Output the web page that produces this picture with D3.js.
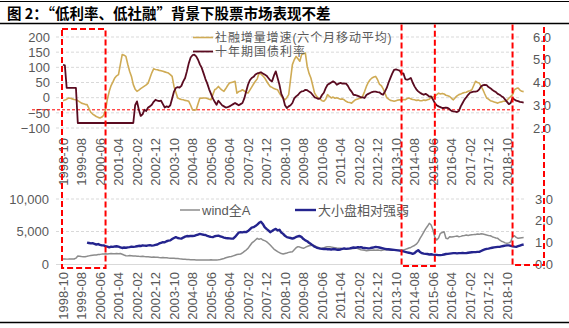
<!DOCTYPE html>
<html><head><meta charset="utf-8">
<script src="https://cdn.jsdelivr.net/npm/d3@7"></script>
<style>body{margin:0;background:#fff}svg{display:block}</style>
</head><body>
<svg id="c" width="569" height="328"></svg>
<script>
const title = "图 2：“低利率、低社融”背景下股票市场表现不差";
const startYear = 1998, startMonth = 10;
const tickLabels = ["1998-10","1999-08","2000-06","2001-04","2002-02","2002-12","2003-10","2004-08","2005-06","2006-04","2007-02","2007-12","2008-10","2009-08","2010-06","2011-04","2012-02","2012-12","2013-10","2014-08","2015-06","2016-04","2017-02","2017-12","2018-10"];
const seriesNames = ["社融增量增速(六个月移动平均)","十年期国债利率","wind全A","大小盘相对强弱"];

// 社融增量增速(六个月移动平均) — left axis, top panel (monthly from 1998-10)
const socialFinancing = [
 -10,-8,-5,-1,-2,-4,-6,-7,-10,-14,
 -18,-20,-22,-23,-35,-48,-54,-58,-62,-65,
 -67,-64,-58,-40,-5,21,40,52,65,72,
 76,110,142,140,136,110,87,70,43,28,
 21,25,30,34,38,42,48,65,82,95,
 93,92,90,89,87,85,83,81,76,70,
 37,18,-1,-4,-6,-7,-9,-10,-12,-25,
 -40,-41,-40,-20,-1,-2,-1,-1,-3,-5,
 -7,10,26,30,37,30,25,21,30,40,
 48,50,52,54,15,20,22,26,22,18,
 15,25,35,45,54,62,81,78,72,65,
 55,45,37,34,30,28,26,15,5,-2,
 -7,0,10,60,109,125,136,128,120,142,
 145,147,103,80,65,40,15,5,-1,-5,
 -10,-12,-5,10,4,-1,2,-2,0,-3,
 -5,-4,-7,-12,-15,-16,-18,-12,-7,-5,
 -3,-1,5,20,37,50,59,65,68,70,
 60,45,40,30,15,0,-5,-9,-10,-12,
 -10,-8,-7,-9,-6,-7,-3,-1,-4,-6,
 -7,-9,-8,-10,-10,-8,-9,-7,-5,0,
 2,4,10,15,12,14,12,8,6,4,
 -2,-7,0,6,10,12,15,17,18,21,
 23,26,40,54,50,48,38,26,12,-1,
 -5,-10,-12,-14,-16,-18,-15,-14,-12,-12,
 -8,-2,4,10,26,30,32,25,21,20
];
// 十年期国债利率 — right axis, top panel
const bondYield = [
 4.78,4.75,3.76,3.76,3.76,3.76,3.76,3.76,2.22,2.22,
 2.22,2.22,2.22,2.22,2.22,2.22,2.22,2.22,2.22,2.22,
 2.22,2.22,2.22,2.22,2.22,2.22,2.22,2.22,2.22,2.22,
 2.22,2.22,2.22,2.22,2.22,2.22,2.22,2.22,2.22,3.0,
 3.17,2.8,2.53,2.6,2.8,2.75,2.9,2.95,3.02,3.15,
 3.24,3.2,3.18,3.2,3.05,2.9,2.95,2.92,3.0,3.3,
 3.6,3.76,3.8,3.78,3.85,4.05,4.2,4.5,4.85,5.1,
 5.2,5.22,5.15,5.0,4.8,4.64,4.4,4.15,3.95,3.7,
 3.5,3.3,3.15,3.02,3.2,3.1,3.0,2.95,2.9,2.92,
 2.95,3.0,3.05,3.1,3.05,3.0,3.05,3.1,3.3,3.6,
 3.9,4.1,4.2,4.25,4.35,4.4,4.42,4.45,4.4,4.35,
 4.3,4.2,4.1,4.05,4.3,4.49,4.2,3.9,3.5,3.32,
 3.0,2.88,2.95,3.0,3.1,3.3,3.39,3.45,3.55,3.61,
 3.62,3.68,3.66,3.6,3.55,3.45,3.35,3.32,3.28,3.3,
 3.45,3.55,3.75,3.9,3.95,4.0,4.05,4.0,3.9,3.95,
 3.98,3.95,3.96,3.95,3.85,3.7,3.6,3.46,3.45,3.42,
 3.39,3.35,3.35,3.32,3.45,3.5,3.54,3.58,3.6,3.6,
 3.58,3.57,3.5,3.46,3.6,3.76,4.0,4.2,4.4,4.56,
 4.58,4.55,4.52,4.4,4.4,4.15,4.12,4.15,4.2,4.0,
 3.83,3.7,3.61,3.55,3.5,3.46,3.5,3.45,3.38,3.39,
 3.25,3.1,3.0,2.95,2.92,2.88,2.88,2.9,2.88,2.82,
 2.75,2.73,2.72,2.7,2.75,2.95,3.1,3.25,3.35,3.46,
 3.55,3.58,3.6,3.6,3.62,3.7,3.83,3.88,3.9,3.88,
 3.8,3.75,3.68,3.62,3.58,3.5,3.46,3.4,3.35,3.25,
 3.15,3.05,3.1,3.32,3.25,3.2,3.18,3.15,3.14,3.12
];
// wind全A — left axis, bottom panel
const windA = [
 770,760,750,760,780,770,770,900,1230,1200,
 1150,1120,1130,1180,1250,1300,1350,1380,1400,1450,
 1480,1520,1540,1560,1540,1580,1600,1570,1590,1600,
 1590,1620,1500,1380,1280,1250,1300,1260,1220,1250,
 1200,1180,1170,1200,1150,1120,1100,1080,1050,1060,
 1030,1050,1000,980,1000,960,950,920,900,880,
 870,860,840,800,770,740,720,700,690,670,
 650,640,630,620,615,620,630,610,600,620,
 640,610,620,615,650,700,780,850,950,1050,
 1130,1150,1250,1350,1450,1500,1540,1700,1950,2150,
 2400,2800,3200,3430,3700,3950,3800,3900,3690,3600,
 3450,3200,2920,2600,2300,2100,1900,1750,1600,1540,
 1620,1700,1790,1850,1900,2200,2500,2670,2600,2500,
 2410,2550,2700,2800,2850,2920,2800,2650,2550,2450,
 2410,2500,2600,2650,2670,2600,2550,2500,2450,2420,
 2410,2350,2300,2260,2300,2350,2400,2380,2420,2410,
 2300,2200,2150,2100,2050,2080,2100,2120,2150,2130,
 2150,2100,2080,2150,2200,2180,2150,2120,2100,2130,
 2150,2100,2120,2150,2150,2250,2350,2450,2550,2700,
 2850,3050,3400,3950,4400,4900,5400,5800,6260,6000,
 5230,4100,3690,4000,4720,4850,4970,3950,3900,4200,
 4150,4200,4250,4300,4200,4250,4350,4400,4460,4400,
 4450,4500,4520,4550,4600,4560,4650,4600,4550,4460,
 4400,4350,4200,4100,4000,3950,3700,3500,3400,3250,
 3180,3250,3400,4200,4350,4100,3950,4000,4050,4070
];
// 大小盘相对强弱 — right axis, bottom panel
const sizeRatio = [
 null,null,null,null,null,null,null,null,null,null,
 null,null,null,0.99,0.97,0.95,0.96,0.93,0.9,0.92,
 0.88,0.86,0.86,0.82,0.8,0.77,0.8,0.79,0.81,0.82,
 0.8,0.77,0.74,0.76,0.75,0.77,0.78,0.8,0.79,0.8,
 0.82,0.84,0.83,0.86,0.85,0.84,0.86,0.87,0.85,0.86,
 0.88,0.9,0.95,0.98,1.01,1.0,1.05,1.08,1.09,1.15,
 1.2,1.24,1.2,1.18,1.17,1.22,1.26,1.29,1.28,1.3,
 1.29,1.3,1.33,1.36,1.39,1.37,1.35,1.34,1.3,1.27,
 1.25,1.24,1.28,1.3,1.31,1.28,1.25,1.22,1.2,1.19,
 1.18,1.17,1.17,1.25,1.35,1.45,1.47,1.46,1.48,1.47,
 1.52,1.6,1.68,1.7,1.75,1.82,1.9,1.95,1.85,1.7,
 1.62,1.55,1.47,1.52,1.58,1.62,1.55,1.58,1.45,1.39,
 1.3,1.24,1.22,1.2,1.17,1.2,1.25,1.28,1.29,1.24,
 1.15,1.09,1.05,0.98,0.92,0.86,0.8,0.76,0.73,0.71,
 0.7,0.69,0.7,0.68,0.68,0.67,0.69,0.68,0.66,0.66,
 0.67,0.7,0.72,0.7,0.71,0.72,0.74,0.76,0.75,0.77,
 0.77,0.78,0.75,0.74,0.73,0.72,0.73,0.75,0.77,0.79,
 0.78,0.76,0.74,0.72,0.7,0.68,0.68,0.67,0.66,0.65,
 0.64,0.63,0.62,0.6,0.58,0.56,0.54,0.52,0.5,0.47,
 0.5,0.58,0.64,0.55,0.5,0.48,0.47,0.46,0.44,0.45,
 0.43,0.42,0.42,0.41,0.41,0.42,0.44,0.46,0.47,0.48,
 0.49,0.5,0.5,0.49,0.5,0.5,0.51,0.5,0.5,0.52,
 0.53,0.54,0.55,0.55,0.56,0.56,0.6,0.64,0.67,0.7,
 0.71,0.73,0.75,0.77,0.78,0.79,0.79,0.81,0.83,0.85,
 0.86,0.86,0.84,0.82,0.8,0.79,0.82,0.85,0.88,0.9
];
const topLeftTicks = [-100,-50,0,50,100,150,200];
const topRightTicks = [2,3,4,5,6];
const botLeftTicks = [0,5000,10000];
const botRightTicks = [0,1,2,3];
const yieldMarker = 2.8;
const boxes = [[0,23],[183,201],[243,260]]; // month-index spans highlighted

const months = socialFinancing.map((d,i)=>{
  const m = startMonth - 1 + i;
  return (startYear + Math.floor(m/12)) + "-" + String(m%12+1).padStart(2,"0");
});

const svg = d3.select("#c");
svg.append("rect").attr("width",569).attr("height",328).attr("fill","#fff");
const FONT = "'Liberation Sans', Arial, sans-serif";
const CJK = "'Noto Sans CJK SC', sans-serif";
const LEGFONT = "'Liberation Sans', 'Noto Sans CJK SC', sans-serif";
const axisColor = "#595959";
const gridColor = "#d9d9d9";

// title
svg.append("line").attr("x1",0).attr("x2",569).attr("y1",1.5).attr("y2",1.5).attr("stroke","#000").attr("stroke-width",1);
svg.append("text").attr("x",7).attr("y",19).attr("font-family",CJK).attr("font-weight","bold")
  .attr("font-size",14.5).attr("fill","#000").text(title);
svg.append("line").attr("x1",0).attr("x2",569).attr("y1",23.5).attr("y2",23.5).attr("stroke","#000").attr("stroke-width",1.5);
svg.append("line").attr("x1",0).attr("x2",569).attr("y1",322.5).attr("y2",322.5).attr("stroke","#000").attr("stroke-width",1.5);

const n = months.length;
const x = d3.scaleLinear().domain([0, n-1]).range([63, 63 + (n-1)*1.85]);
const xEnd = 521;

const yTL = d3.scaleLinear().domain([-100,200]).range([128,37]);
const yTR = d3.scaleLinear().domain([2,6]).range([128,37]);
const yBL = d3.scaleLinear().domain([0,10000]).range([264,199]);
const yBR = d3.scaleLinear().domain([0,3]).range([264,199]);

function styleAxis(g){
  g.select(".domain").remove();
  g.selectAll("text").attr("font-family",FONT).attr("font-size",13).attr("fill",axisColor);
}
// grids
svg.append("g").selectAll("line").data(topLeftTicks).join("line")
  .attr("x1",56).attr("x2",xEnd).attr("y1",d=>yTL(d)).attr("y2",d=>yTL(d))
  .attr("stroke",gridColor).attr("stroke-width",1).attr("stroke-dasharray","3,2");
svg.append("g").selectAll("line").data(botLeftTicks.slice(1)).join("line")
  .attr("x1",56).attr("x2",524).attr("y1",d=>yBL(d)).attr("y2",d=>yBL(d))
  .attr("stroke",gridColor).attr("stroke-width",1).attr("stroke-dasharray","3,2");
svg.append("line").attr("x1",56).attr("x2",524).attr("y1",yBL(0)+0.5).attr("y2",yBL(0)+0.5)
  .attr("stroke",gridColor).attr("stroke-width",1);

// axes
svg.append("g").attr("transform","translate(55,0)")
  .call(d3.axisLeft(yTL).tickValues(topLeftTicks).tickSize(0).tickPadding(5).tickFormat(d3.format("d"))).call(styleAxis);
svg.append("g").attr("transform","translate(527,0)")
  .call(d3.axisRight(yTR).tickValues(topRightTicks).tickSize(0).tickPadding(6).tickFormat(d3.format(".1f"))).call(styleAxis);
svg.append("g").attr("transform","translate(54,0)")
  .call(d3.axisLeft(yBL).tickValues(botLeftTicks).tickSize(0).tickPadding(5).tickFormat(d3.format(","))).call(styleAxis);
svg.append("g").attr("transform","translate(529,0)")
  .call(d3.axisRight(yBR).tickValues(botRightTicks).tickSize(0).tickPadding(6).tickFormat(d3.format(".1f"))).call(styleAxis);

// x tick labels (both panels)
function xLabels(yTop){
  svg.append("g").selectAll("text").data(tickLabels).join("text")
    .attr("transform",(d,k)=>`translate(${x(months.indexOf(d))},${yTop}) rotate(-90)`)
    .attr("text-anchor","end").attr("dy","0.35em")
    .attr("font-family",FONT).attr("font-size",13).attr("fill",axisColor).text(d=>d);
}
xLabels(138);
xLabels(272);

// red dashed horizontal marker
svg.append("line").attr("x1",32).attr("x2",xEnd).attr("y1",yTR(yieldMarker)).attr("y2",yTR(yieldMarker))
  .attr("stroke","#ff0000").attr("stroke-width",1).attr("stroke-dasharray","3,2");

// lines
const lineOf = (y)=>d3.line().defined(d=>d!=null).x((d,i)=>x(i)).y(d=>y(d));
svg.append("path").datum(socialFinancing).attr("d",lineOf(yTL))
  .attr("fill","none").attr("stroke","#cfab55").attr("stroke-width",1.6).attr("stroke-linejoin","round");
svg.append("path").datum(bondYield).attr("d",lineOf(yTR))
  .attr("fill","none").attr("stroke","#5a0b20").attr("stroke-width",1.8).attr("stroke-linejoin","round");
svg.append("path").datum(windA).attr("d",lineOf(yBL))
  .attr("fill","none").attr("stroke","#8c8c8c").attr("stroke-width",1.5).attr("stroke-linejoin","round");
svg.append("path").datum(sizeRatio).attr("d",lineOf(yBR))
  .attr("fill","none").attr("stroke","#24248e").attr("stroke-width",2.4).attr("stroke-linejoin","round");

// legends
const leg = [
  {x1:193,x2:213,y:37.5,c:"#cfab55",w:1.6,t:seriesNames[0],fs:12,ls:0.9},
  {x1:193,x2:213,y:51.5,c:"#5a0b20",w:1.8,t:seriesNames[1],fs:12,ls:1},
  {x1:180,x2:200,y:210,c:"#8c8c8c",w:1.5,t:seriesNames[2],fs:13,ls:0},
  {x1:295,x2:316,y:210,c:"#24248e",w:2.4,t:seriesNames[3],fs:13,ls:0}
];
leg.forEach(l=>{
  svg.append("line").attr("x1",l.x1).attr("x2",l.x2).attr("y1",l.y).attr("y2",l.y).attr("stroke",l.c).attr("stroke-width",l.w);
  svg.append("text").attr("x",l.x2+2).attr("y",l.y).attr("dy","0.35em").attr("font-family",LEGFONT)
    .attr("font-size",l.fs).attr("letter-spacing",l.ls).attr("fill",axisColor).text(l.t);
});

// red dashed highlight boxes
const red = svg.append("g").attr("fill","none").attr("stroke","#ff0000").attr("stroke-width",2).attr("stroke-dasharray","6,3");
red.append("rect").attr("x",x(boxes[0][0])-1).attr("y",29).attr("width",x(boxes[0][1])-x(boxes[0][0])+1).attr("height",239);
red.append("path").attr("d",`M${x(boxes[1][0])},24.5V266H${x(boxes[1][1])}V24.5`);
red.append("path").attr("d",`M${x(boxes[2][0])},24.5V265H${x(boxes[2][1])}V24.5`);
</script>
</body></html>
